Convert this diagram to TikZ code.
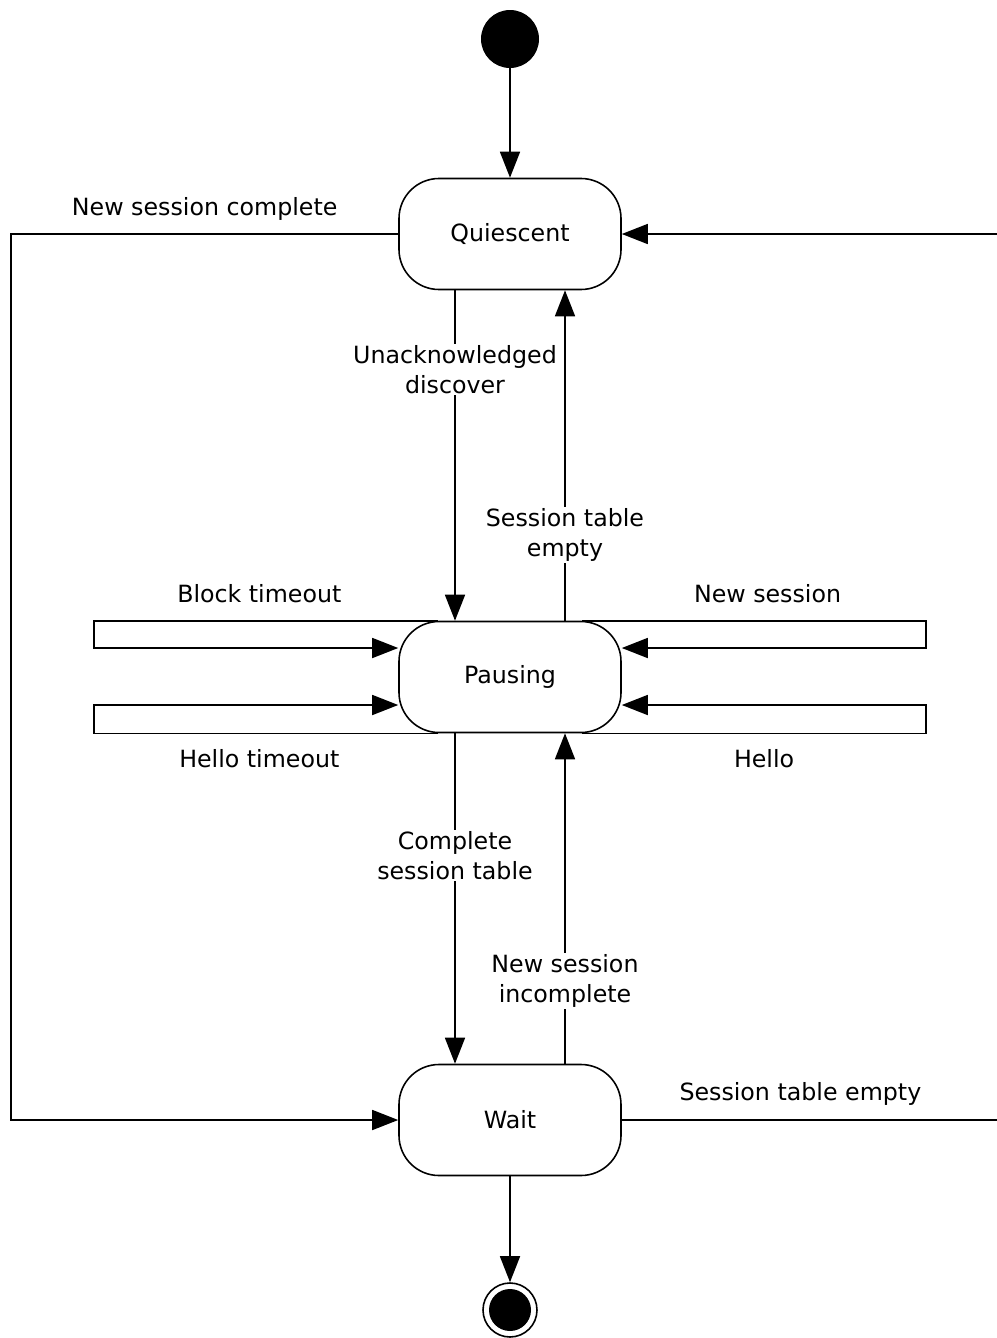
\documentclass[tikz,border=0pt]{standalone}
\usepackage{fontspec}
\setmainfont{DejaVu Sans}
\usetikzlibrary{positioning, arrows.meta, calc}
\tikzstyle{stateBox} =[draw, rounded corners=8mm, minimum width=44.4mm, minimum height=22.2mm, line width=0.9pt, font=\fontsize{13.5}{17}\selectfont]
\tikzstyle{transLabel} =[align=center, fill=white, inner sep=1pt, font=\fontsize{13.5}{17}\selectfont]
\tikzstyle{loopLabel} =[text depth=0.25em, font=\fontsize{13.5}{17}\selectfont]
\tikzstyle{trans} =[-{Triangle[length=5.2mm, width=4mm]}, line width=0.9pt]

\begin{document}
\begin{tikzpicture}[x=0.2mm, y=-0.2mm]
\useasboundingbox (0,0) rectangle (997,1338);

\node (start) [circle, fill=black, minimum size=11.6mm, inner sep=0pt] at (510,39) {};
\node (quiescent) [stateBox] at (510,234) {Quiescent};
\node (pausing) [stateBox] at (510,677) {Pausing};
\node (wait) [stateBox] at (510,1120) {Wait};
\node (stop) [circle, draw, line width=0.9pt, minimum size=10.8mm, inner sep=0pt] at (510,1310) {};
\node (stopDot) [circle, fill=black, minimum size=8.4mm, inner sep=0pt] at (stop) {};

\draw[trans] (start) -- (quiescent);
\draw[trans] (wait) -- (stop);

\draw[trans] ($(quiescent.south)+(-55,0)$) -- node[transLabel, pos=0.24] {Unacknowledged\\discover} ($(pausing.north)+(-55,0)$);
\draw[trans] ($(pausing.north)+(55,0)$) -- node[transLabel, pos=0.26] {Session table\\empty} ($(quiescent.south)+(55,0)$);
\draw[trans] ($(pausing.south)+(-55,0)$) -- node[transLabel, pos=0.37] {Complete\\session table} ($(wait.north)+(-55,0)$);
\draw[trans] ($(wait.north)+(55,0)$) -- node[transLabel, pos=0.25] {New session\\incomplete} ($(pausing.south)+(55,0)$);

\draw[trans] (quiescent.west) -- node[loopLabel, above=1.4mm, pos=0.5] {New session complete} ++(-387,0) |- (wait.west);
\draw[trans] (wait.east) -- node[loopLabel, above=1.6mm, pos=0.47] {Session table empty} ++(380,0) |- (quiescent.east);

\draw[trans] ($(pausing.north west)+(40,0)$) -- node[loopLabel, above=1.4mm, pos=0.52] {Block timeout} ++(-344,0) |- ($(pausing.west)+(0,-29)$);
\draw[trans] ($(pausing.south west)+(40,0)$) -- node[loopLabel, below=2mm, pos=0.52] {Hello timeout} ++(-344,0) |- ($(pausing.west)+(0,28)$);
\draw[trans] ($(pausing.north east)+(-40,0)$) -- node[loopLabel, above=1.4mm, pos=0.54] {New session} ++(344,0) |- ($(pausing.east)+(0,-29)$);
\draw[trans] ($(pausing.south east)+(-40,0)$) -- node[loopLabel, below=2mm, pos=0.53] {Hello} ++(344,0) |- ($(pausing.east)+(0,28)$);
\end{tikzpicture}
\end{document}
